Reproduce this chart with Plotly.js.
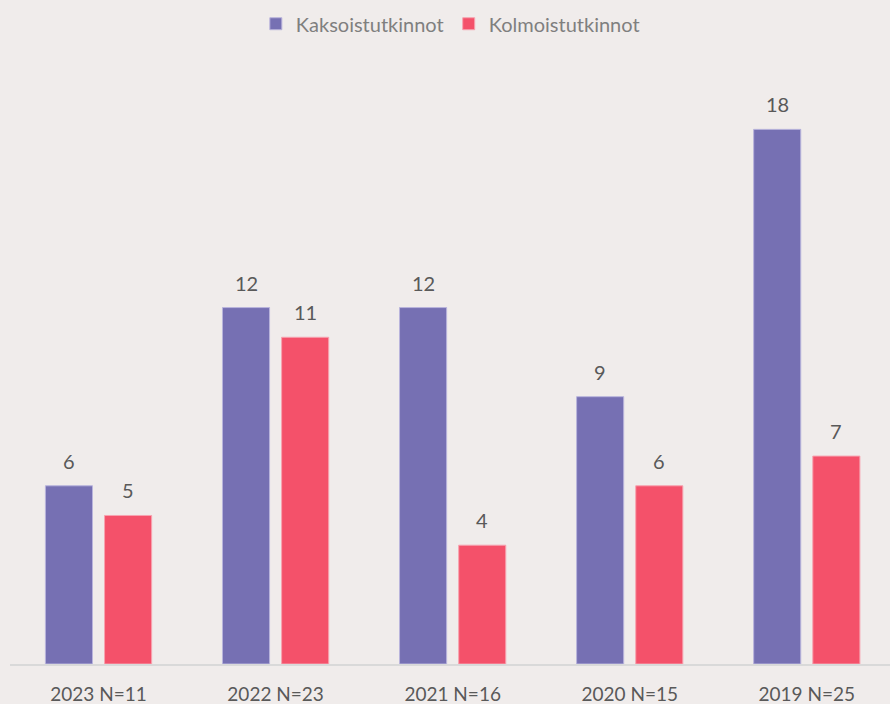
<!DOCTYPE html>
<html>
<head>
<meta charset="utf-8">
<script src="https://cdn.plot.ly/plotly-3.0.1.min.js"></script>
<style>
html,body{margin:0;padding:0;background:#F0ECEB;}
#chart{width:890px;height:704px;}
</style>
</head>
<body>
<div id="chart"></div>
<script>
var categories = ["2023 N=11", "2022 N=23", "2021 N=16", "2020 N=15", "2019 N=25"];
var kaksoisValues = [6, 12, 12, 9, 18];
var kolmoisValues = [5, 11, 4, 6, 7];
var seriesNames = ["Kaksoistutkinnot", "Kolmoistutkinnot"];

var purple = "#7670B3";
var red = "#F4516A";
var barW = 0.266;
var fontFam = "Lato, 'Open Sans', sans-serif";

var traces = [
  {type: "bar", name: seriesNames[0], x: categories, y: kaksoisValues,
   marker: {color: purple, line: {color: "#B9B4DC", width: 1}},
   width: barW, offset: -0.300, hoverinfo: "skip"},
  {type: "bar", name: seriesNames[1], x: categories, y: kolmoisValues,
   marker: {color: red, line: {color: "#F7A3B0", width: 1}},
   width: barW, offset: 0.034, hoverinfo: "skip"}
];

var annotations = [];
function addLabels(vals, centerOffset) {
  vals.forEach(function (v, i) {
    annotations.push({
      x: i + centerOffset, y: v, xref: "x", yref: "y",
      text: String(v), showarrow: false, yanchor: "bottom", yshift: 11,
      font: {family: fontFam, size: 20, color: "#595959"}
    });
  });
}
addLabels(kaksoisValues, -0.300 + barW / 2);
addLabels(kolmoisValues, 0.034 + barW / 2);

var layout = {
  width: 890, height: 704,
  paper_bgcolor: "#F0ECEB", plot_bgcolor: "#F0ECEB",
  margin: {l: 10, r: 0, t: 40, b: 40},
  barmode: "overlay",
  showlegend: true,
  legend: {orientation: "h", x: 0.506, xanchor: "center", y: 0.994, yanchor: "top",
    yref: "container", xref: "container", bgcolor: "rgba(0,0,0,0)",
    font: {family: fontFam, size: 20, color: "#7F7F7F"},
    itemwidth: 30, tracegroupgap: 0},
  xaxis: {type: "category", range: [-0.5, 4.47], showgrid: false, zeroline: false,
    showline: true, linecolor: "#D9D9D9", linewidth: 2,
    ticks: "outside", ticklen: 12, tickcolor: "rgba(0,0,0,0)",
    tickfont: {family: fontFam, size: 19, color: "#595959"},
    fixedrange: true},
  yaxis: {range: [0, 20.9], showgrid: false, zeroline: false, showline: false,
    showticklabels: false, ticks: "", fixedrange: true},
  annotations: annotations
};

Plotly.newPlot("chart", traces, layout, {displayModeBar: false, staticPlot: true});
</script>
</body>
</html>
